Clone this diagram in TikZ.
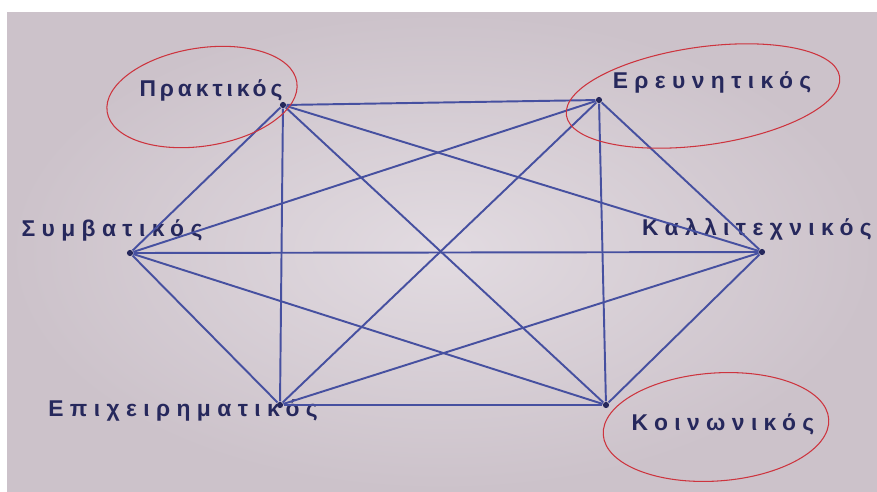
\documentclass[tikz,border=0pt]{standalone}
\usepackage{fontspec}
\usepackage{xcolor}
\usepackage{tikz}
\newfontfamily\grfont[LetterSpace=28]{Liberation Sans Bold}
\newfontfamily\grtight[LetterSpace=17]{Liberation Sans Bold}
\definecolor{paper}{RGB}{226,219,225}
\definecolor{paperedge}{RGB}{204,194,202}
\definecolor{ink}{RGB}{70,80,160}
\definecolor{navy}{RGB}{38,40,92}
\definecolor{pen}{RGB}{205,52,62}

\begin{document}
\begin{tikzpicture}[x=0.02cm,y=-0.02cm,semithick]
\tikzstyle{vertex}=[circle,fill=navy,inner sep=0pt,minimum size=3.5pt]
\tikzstyle{typ}=[text=navy,font=\grfont\fontsize{13}{15}\selectfont,inner sep=1pt]
\tikzstyle{typ tight}=[typ,font=\grtight\fontsize{13}{15}\selectfont]
\tikzstyle{ring}=[draw=pen,line width=0.6pt]
\tikzstyle{every edge}=[draw=ink,line width=1.1pt]

\useasboundingbox (0,0) rectangle (877,491);
\fill[white] (0,0) rectangle (877,491);
\shade[inner color=paper,outer color=paperedge] (7,12) rectangle (877,491);

% vertices
\node[vertex] (p)  at (283,105) {};
\node[vertex] (e)  at (599,100) {};
\node[vertex] (s)  at (130,253) {};
\node[vertex] (k)  at (762,252) {};
\node[vertex] (ep) at (280,405) {};
\node[vertex] (ko) at (606,405) {};

% types
\node[typ tight] (tp) at (211,90) {Πρακτικός};
\node[typ] (te)  at (712,82)  {Ερευνητικός};
\node[typ] (ts)  at (112,230) {Συμβατικός};
\node[typ] (tk)  at (757,229) {Καλλιτεχνικός};
\node[typ] (tep) at (183,410) {Επιχειρηματικός};
\node[typ] (tko) at (723,424) {Κοινωνικός};

\path   (p)     edge (e)
                edge (s)
                edge (k)
                edge (ep)
                edge (ko)
        (e)     edge (s)
                edge (k)
                edge (ep)
                edge (ko)
        (s)     edge (k)
                edge (ep)
                edge (ko)
        (k)     edge (ep)
                edge (ko)
        (ep)    edge (ko);

% pen marks
\draw[ring,rotate around={9:(202,97)}] (202,97) ellipse (96 and 49);
\draw[ring,rotate around={8:(703,96)}] (703,96) ellipse (138 and 49);
\draw[ring,rotate around={4:(716,427)}] (716,427) ellipse (113 and 54);
\end{tikzpicture}
\end{document}
